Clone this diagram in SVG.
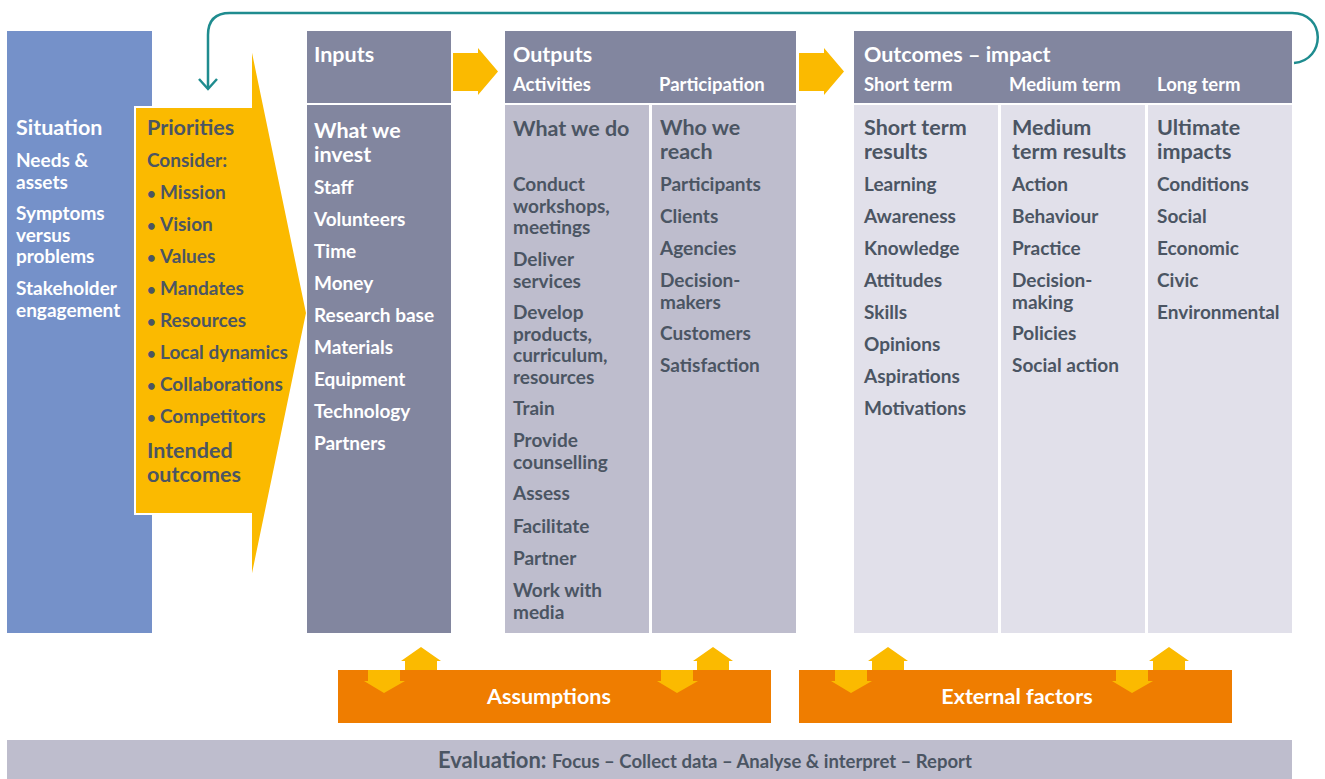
<svg xmlns="http://www.w3.org/2000/svg" width="1325" height="779" viewBox="0 0 1325 779">
<style>
text{font-family:Lato,"Open Sans","Liberation Sans",sans-serif;font-weight:700}
.hd{fill:#ffffff;font-size:21.5px}
.sh{fill:#ffffff;font-size:18.5px}
.tw{fill:#ffffff;font-size:21.5px}
.iw{fill:#ffffff;font-size:19px}
.td{fill:#4B5563;font-size:21.5px}
.id{fill:#4B5563;font-size:19px}
.bu{font-size:15px}
.hdr{fill:#82869F}
.mid{fill:#BEBDCD}
.lt{fill:#E1E0EA}
.ya{fill:#FBBA00}
.bar{fill:#EF7D00}
.bt{fill:#ffffff;font-size:21.5px}
</style>
<defs>
<path id="hArrow" d="M0,23 L25,23 L25,18 L45,41.5 L25,65 L25,61 L0,61 Z"/>
<path id="upA" d="M4,14 L0,14 L20,0 L40,14 L36,14 L36,23 L4,23 Z"/>
<path id="dnA" d="M4,0 L36,0 L36,11 L41,11 L20,23 L0,11 L4,11 Z"/>
</defs>

<g id="situation">
<rect x="7" y="31" width="145" height="602" fill="#7591C9"/>
<text class="tw" x="16" y="135">Situation</text>
<text class="iw" x="16" y="167">Needs &amp;<tspan x="16" dy="21.5">assets</tspan></text>
<text class="iw" x="16" y="220">Symptoms<tspan x="16" dy="21.5">versus</tspan><tspan x="16" dy="21.5">problems</tspan></text>
<text class="iw" x="16" y="295">Stakeholder<tspan x="16" dy="21.5">engagement</tspan></text>
</g>

<g id="priorities">
<polygon points="135,107 251,107 251,43 307,313 251,583 251,514 135,514" fill="#FBBA00" stroke="#ffffff" stroke-width="2"/>
<text class="td" x="147" y="135">Priorities</text>
<text class="id" x="147" y="167">Consider:</text>
<text class="id" x="147" y="199"><tspan class="bu">•</tspan><tspan x="160">Mission</tspan></text>
<text class="id" x="147" y="231"><tspan class="bu">•</tspan><tspan x="160">Vision</tspan></text>
<text class="id" x="147" y="263"><tspan class="bu">•</tspan><tspan x="160">Values</tspan></text>
<text class="id" x="147" y="295"><tspan class="bu">•</tspan><tspan x="160">Mandates</tspan></text>
<text class="id" x="147" y="327"><tspan class="bu">•</tspan><tspan x="160">Resources</tspan></text>
<text class="id" x="147" y="359"><tspan class="bu">•</tspan><tspan x="160">Local dynamics</tspan></text>
<text class="id" x="147" y="391"><tspan class="bu">•</tspan><tspan x="160">Collaborations</tspan></text>
<text class="id" x="147" y="423"><tspan class="bu">•</tspan><tspan x="160">Competitors</tspan></text>
<text class="td" x="147" y="458">Intended<tspan x="147" dy="24">outcomes</tspan></text>
</g>

<g id="inputs">
<rect class="hdr" x="307" y="31" width="144" height="72"/>
<text class="hd" x="314" y="62">Inputs</text>
<rect class="hdr" x="307" y="105" width="144" height="528"/>
<text class="tw" x="314" y="138">What we<tspan x="314" dy="24">invest</tspan></text>
<text class="iw" x="314" y="194">Staff</text>
<text class="iw" x="314" y="226">Volunteers</text>
<text class="iw" x="314" y="258">Time</text>
<text class="iw" x="314" y="290">Money</text>
<text class="iw" x="314" y="322">Research base</text>
<text class="iw" x="314" y="354">Materials</text>
<text class="iw" x="314" y="386">Equipment</text>
<text class="iw" x="314" y="418">Technology</text>
<text class="iw" x="314" y="450">Partners</text>
</g>

<g id="outputs">
<rect class="hdr" x="505" y="31" width="291" height="72"/>
<text class="hd" x="513" y="62">Outputs</text>
<text class="sh" x="513" y="91">Activities</text>
<text class="sh" x="659" y="91">Participation</text>
</g>

<g id="activities">
<rect class="mid" x="505" y="105" width="144" height="528"/>
<text class="td" x="513" y="136">What we do</text>
<text class="id" x="513" y="191">Conduct<tspan x="513" dy="21.5">workshops,</tspan><tspan x="513" dy="21.5">meetings</tspan></text>
<text class="id" x="513" y="266">Deliver<tspan x="513" dy="21.5">services</tspan></text>
<text class="id" x="513" y="319">Develop<tspan x="513" dy="21.5">products,</tspan><tspan x="513" dy="21.5">curriculum,</tspan><tspan x="513" dy="21.5">resources</tspan></text>
<text class="id" x="513" y="415">Train</text>
<text class="id" x="513" y="447">Provide<tspan x="513" dy="21.5">counselling</tspan></text>
<text class="id" x="513" y="500">Assess</text>
<text class="id" x="513" y="533">Facilitate</text>
<text class="id" x="513" y="565">Partner</text>
<text class="id" x="513" y="597">Work with<tspan x="513" dy="21.5">media</tspan></text>
</g>

<g id="participation">
<rect class="mid" x="652" y="105" width="144" height="528"/>
<text class="td" x="660" y="135">Who we<tspan x="660" dy="24">reach</tspan></text>
<text class="id" x="660" y="191">Participants</text>
<text class="id" x="660" y="223">Clients</text>
<text class="id" x="660" y="255">Agencies</text>
<text class="id" x="660" y="287">Decision-<tspan x="660" dy="21.5">makers</tspan></text>
<text class="id" x="660" y="340">Customers</text>
<text class="id" x="660" y="372">Satisfaction</text>
</g>

<g id="outcomes">
<rect class="hdr" x="854" y="31" width="438" height="72"/>
<text class="hd" x="864" y="62">Outcomes – impact</text>
<text class="sh" x="864" y="91">Short term</text>
<text class="sh" x="1009" y="91">Medium term</text>
<text class="sh" x="1157" y="91">Long term</text>
</g>

<g id="short-term">
<rect class="lt" x="854" y="105" width="144" height="528"/>
<text class="td" x="864" y="135">Short term<tspan x="864" dy="24">results</tspan></text>
<text class="id" x="864" y="191">Learning</text>
<text class="id" x="864" y="223">Awareness</text>
<text class="id" x="864" y="255">Knowledge</text>
<text class="id" x="864" y="287">Attitudes</text>
<text class="id" x="864" y="319">Skills</text>
<text class="id" x="864" y="351">Opinions</text>
<text class="id" x="864" y="383">Aspirations</text>
<text class="id" x="864" y="415">Motivations</text>
</g>

<g id="medium-term">
<rect class="lt" x="1001" y="105" width="144" height="528"/>
<text class="td" x="1012" y="135">Medium<tspan x="1012" dy="24">term results</tspan></text>
<text class="id" x="1012" y="191">Action</text>
<text class="id" x="1012" y="223">Behaviour</text>
<text class="id" x="1012" y="255">Practice</text>
<text class="id" x="1012" y="287">Decision-<tspan x="1012" dy="21.5">making</tspan></text>
<text class="id" x="1012" y="340">Policies</text>
<text class="id" x="1012" y="372">Social action</text>
</g>

<g id="long-term">
<rect class="lt" x="1148" y="105" width="144" height="528"/>
<text class="td" x="1157" y="135">Ultimate<tspan x="1157" dy="24">impacts</tspan></text>
<text class="id" x="1157" y="191">Conditions</text>
<text class="id" x="1157" y="223">Social</text>
<text class="id" x="1157" y="255">Economic</text>
<text class="id" x="1157" y="287">Civic</text>
<text class="id" x="1157" y="319">Environmental</text>
</g>

<g id="assumptions">
<rect class="bar" x="338" y="670" width="433" height="53"/>
<text class="bt" x="549" y="704" text-anchor="middle">Assumptions</text>
</g>

<g id="external-factors">
<rect class="bar" x="799" y="670" width="433" height="53"/>
<text class="bt" x="1017" y="704" text-anchor="middle">External factors</text>
</g>

<g id="evaluation">
<rect x="7" y="740" width="1285" height="39" fill="#BEBDCD"/>
<text x="438" y="768" fill="#4B5563" font-size="22">Evaluation: <tspan font-size="18.5">Focus – Collect data – Analyse &amp; interpret – Report</tspan></text>
</g>

<g id="connectors">
<use href="#hArrow" class="ya" x="453" y="30"/>
<use href="#hArrow" class="ya" x="799" y="30"/>
<use href="#upA" class="ya" x="401" y="647"/>
<use href="#dnA" class="ya" x="364" y="670"/>
<use href="#upA" class="ya" x="693" y="647"/>
<use href="#dnA" class="ya" x="657" y="670"/>
<use href="#upA" class="ya" x="868" y="647"/>
<use href="#dnA" class="ya" x="831" y="670"/>
<use href="#upA" class="ya" x="1149" y="647"/>
<use href="#dnA" class="ya" x="1112" y="670"/>
<path d="M1294,63 C1326,60 1326,13 1292,13 L230,13 Q208,13 208,35 L208,88" fill="none" stroke="#1F8C8F" stroke-width="2.5"/>
<polyline points="199,79 208,89 217,79" fill="none" stroke="#1F8C8F" stroke-width="2.5"/>
</g>
</svg>
